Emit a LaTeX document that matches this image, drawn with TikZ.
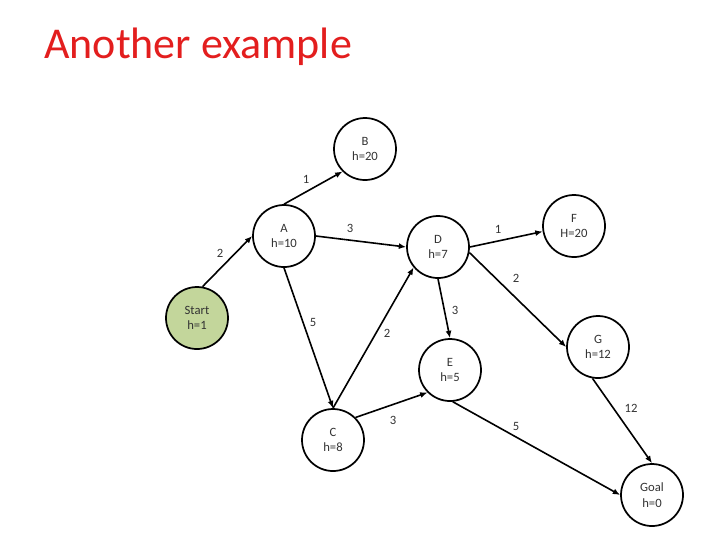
\documentclass[tikz,border=0pt]{standalone}
\usepackage{fontspec}
\setmainfont{Carlito}
\usetikzlibrary{arrows.meta}

\begin{document}
\begin{tikzpicture}[
    x=0.75pt, y=-0.75pt,
    >={Latex[length=5.5pt, width=4.5pt]},
    state/.style={circle, draw, line width=1.3pt, minimum size=46.5pt, inner sep=0pt,
                  align=center, font=\fontsize{9.5}{11.5}\selectfont, text=txtgray},
    edge/.style={->, line width=1.2pt},
    wlabel/.style={font=\fontsize{9.5}{11.5}\selectfont, text=txtgray, inner sep=0pt}
]
    % canvas: 720 x 540
    \path[use as bounding box] (0, 0) rectangle (720, 540);

    % colours
    \definecolor{titlered}{HTML}{E31E1E}
    \definecolor{startgreen}{HTML}{C3D69B}
    \definecolor{txtgray}{HTML}{333333}

    % title
    \node[anchor=base west, inner sep=0pt, text=titlered,
          font=\fontsize{33}{40}\selectfont] (title) at (44, 58) {Another example};

    % ==========================================
    % states
    % ==========================================
    \node[state, fill=startgreen] (start) at (197, 318) {Start\\h=1};
    \node[state] (A) at (284, 236) {A\\h=10};
    \node[state] (B) at (365, 149) {B\\h=20};
    \node[state] (D) at (438, 247) {D\\h=7};
    \node[state] (F) at (574, 226) {F\\H=20};
    \node[state] (G) at (598, 347) {G\\h=12};
    \node[state] (E) at (450, 370) {E\\h=5};
    \node[state] (C) at (333, 440) {C\\h=8};
    \node[state] (goal) at (652, 495) {Goal\\h=0};

    % ==========================================
    % edges
    % ==========================================
    \draw[edge] (start.80) -- (A.180);
    \draw[edge] (A.north) -- (B.225);
    \draw[edge] (A.0) -- (D.180);
    \draw[edge] (A.south) -- (C.north);
    \draw[edge] (C.north) -- (D.220);
    \draw[edge] (D.0) -- (F.190);
    \draw[edge] (D.-10) -- (G.180);
    \draw[edge] (D.south) -- (E.north);
    \draw[edge] (C.45) -- (E.225);
    \draw[edge] (E.-85) -- (goal.180);
    \draw[edge] (G.-100) -- (goal.north);

    % weights
    \node[wlabel] (w-sa) at (220, 253) {2};
    \node[wlabel] (w-ab) at (306, 179) {1};
    \node[wlabel] (w-ad) at (350, 228) {3};
    \node[wlabel] (w-ac) at (313, 322) {5};
    \node[wlabel] (w-cd) at (387, 333) {2};
    \node[wlabel] (w-df) at (498, 229) {1};
    \node[wlabel] (w-dg) at (516, 278) {2};
    \node[wlabel] (w-de) at (455, 310) {3};
    \node[wlabel] (w-ce) at (393, 420) {3};
    \node[wlabel] (w-eg) at (516, 426) {5};
    \node[wlabel] (w-gg) at (631, 408) {12};

\end{tikzpicture}
\end{document}
